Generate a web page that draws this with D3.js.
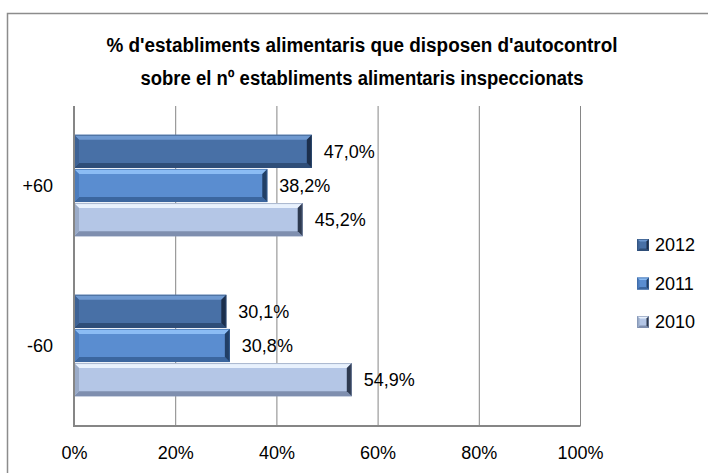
<!DOCTYPE html>
<html>
<head>
<meta charset="utf-8">
<script src="https://cdn.jsdelivr.net/npm/d3@7"></script>
<style>
  html, body { margin: 0; padding: 0; background: #fff; }
  svg { display: block; }
</style>
</head>
<body>
<script>
// chart data
var categories = ["+60", "-60"];
var years = ["2012", "2011", "2010"];
var values2012 = [47.0, 30.1];
var values2011 = [38.2, 30.8];
var values2010 = [45.2, 54.9];
var xTicks = [0, 20, 40, 60, 80, 100];
var titleLines = [
  "% d'establiments alimentaris que disposen d'autocontrol",
  "sobre el nº establiments alimentaris inspeccionats"
];

var seriesValues = { "2012": values2012, "2011": values2011, "2010": values2010 };

// bevel colours per series: base, top light, bottom dark, left, right
var palette = {
  "2012": { base: "#4870a6", top: "#6f99d0", bottom: "#2f4e78", left: "#3d6295", right: "#1c2f4c" },
  "2011": { base: "#5a8dd0", top: "#8bbcf4", bottom: "#3b669f", left: "#4b7cbd", right: "#213f66" },
  "2010": { base: "#b4c6e6", top: "#e8f1fd", bottom: "#7f8faf", left: "#9aabc8", right: "#2e3a50" }
};

var width = 708, height = 473;
var plot = { left: 74, right: 580, top: 106, bottom: 426 };

var svg = d3.select("body")
  .append("svg")
  .attr("width", width)
  .attr("height", height);

// outer chart frame
svg.append("rect")
  .attr("x", 7.5).attr("y", 13.5)
  .attr("width", 712).attr("height", 470)
  .attr("fill", "#fff")
  .attr("stroke", "#8c8c8c")
  .attr("stroke-width", 1.5);

// title
svg.append("g").selectAll("text")
  .data(titleLines)
  .join("text")
  .attr("x", 362)
  .attr("y", function (d, i) { return 52 + i * 33; })
  .attr("text-anchor", "middle")
  .attr("font-family", "'Liberation Sans Narrow', 'Liberation Sans', sans-serif")
  .attr("font-weight", "bold")
  .attr("font-size", 20)
  .attr("textLength", function (d, i) { return i === 0 ? 511 : 443; })
  .attr("lengthAdjust", "spacingAndGlyphs")
  .attr("fill", "#000")
  .text(function (d) { return d; });

var x = d3.scaleLinear().domain([0, 100]).range([plot.left, plot.right]);
var y = d3.scaleBand()
  .domain(categories)
  .range([plot.top, plot.bottom])
  .paddingInner(0.36)
  .paddingOuter(0.18);
var ySub = d3.scaleBand().domain(years).range([0, y.bandwidth()]);

// gridlines + tick labels
var xAxis = svg.append("g")
  .attr("transform", "translate(0," + plot.bottom + ")")
  .call(d3.axisBottom(x)
    .tickValues(xTicks)
    .tickSize(-(plot.bottom - plot.top))
    .tickPadding(20)
    .tickFormat(function (d) { return d + "%"; }));
xAxis.select(".domain").remove();
xAxis.selectAll(".tick line").attr("stroke", "#868686").attr("stroke-width", 1);
xAxis.selectAll(".tick text")
  .attr("font-family", "'Liberation Sans', Arial, sans-serif")
  .attr("font-size", 18)
  .attr("fill", "#000");

// category labels
svg.append("g").selectAll("text")
  .data(categories)
  .join("text")
  .attr("x", 53)
  .attr("y", function (d) { return y(d) + y.bandwidth() / 2; })
  .attr("dy", "0.35em")
  .attr("text-anchor", "end")
  .attr("font-family", "'Liberation Sans', Arial, sans-serif")
  .attr("font-size", 18)
  .attr("fill", "#000")
  .text(function (d) { return d; });

// bevelled bar
function bevelBar(g, bx, by, w, h, c, b) {
  var pts = function (arr) { return arr.map(function (p) { return p.join(","); }).join(" "); };
  g.append("rect").attr("x", bx).attr("y", by).attr("width", w).attr("height", h).attr("fill", c.base);
  g.append("polygon").attr("fill", c.top)
    .attr("points", pts([[bx, by], [bx + w, by], [bx + w - b, by + b], [bx + b, by + b]]));
  g.append("polygon").attr("fill", c.bottom)
    .attr("points", pts([[bx, by + h], [bx + w, by + h], [bx + w - b, by + h - b], [bx + b, by + h - b]]));
  g.append("polygon").attr("fill", c.left)
    .attr("points", pts([[bx, by], [bx + b, by + b], [bx + b, by + h - b], [bx, by + h]]));
  g.append("polygon").attr("fill", c.right)
    .attr("points", pts([[bx + w, by], [bx + w - b, by + b], [bx + w - b, by + h - b], [bx + w, by + h]]));
  g.append("rect").attr("x", bx + 0.5).attr("y", by + 0.5).attr("width", w - 1).attr("height", h - 1)
    .attr("fill", "none").attr("stroke", c.bottom).attr("stroke-width", 1).attr("stroke-opacity", 0.6);
}

var bars = svg.append("g");
var labels = svg.append("g");
years.forEach(function (yr) {
  seriesValues[yr].forEach(function (v, i) {
    var cat = categories[i];
    var by = y(cat) + ySub(yr);
    var h = ySub.bandwidth() - 1;
    var bg = bars.append("g");
    bevelBar(bg, x(0), by, x(v) - x(0), h, palette[yr], 5);
    labels.append("text")
      .attr("x", x(v) + 12)
      .attr("y", by + h / 2)
      .attr("dy", "0.35em")
      .attr("font-family", "'Liberation Sans', Arial, sans-serif")
      .attr("font-size", 18)
      .attr("fill", "#000")
      .text(v.toFixed(1).replace(".", ",") + "%");
  });
});

// axis lines
svg.append("line")
  .attr("x1", plot.left).attr("x2", plot.left)
  .attr("y1", plot.top).attr("y2", plot.bottom + 0.5)
  .attr("stroke", "#868686").attr("stroke-width", 2);
svg.append("line")
  .attr("x1", plot.left - 1).attr("x2", plot.right + 0.5)
  .attr("y1", plot.bottom).attr("y2", plot.bottom)
  .attr("stroke", "#868686").attr("stroke-width", 2);

// legend
var legend = svg.append("g").selectAll("g")
  .data(years)
  .join("g")
  .attr("transform", function (d, i) { return "translate(637," + (245 + i * 38.5) + ")"; });
legend.each(function (d) {
  bevelBar(d3.select(this), 0, -6, 12, 12, palette[d], 2.5);
});
legend.append("text")
  .attr("x", 18)
  .attr("y", 0)
  .attr("dy", "0.35em")
  .attr("font-family", "'Liberation Sans', Arial, sans-serif")
  .attr("font-size", 18)
  .attr("fill", "#000")
  .text(function (d) { return d; });
</script>
</body>
</html>
